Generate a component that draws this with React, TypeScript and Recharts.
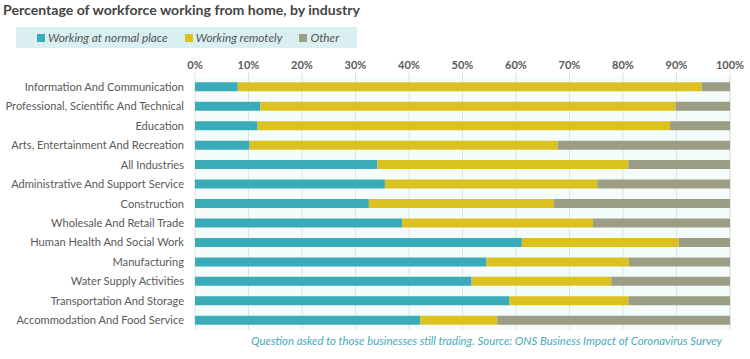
import React from 'react';
import { BarChart, Bar, XAxis, YAxis, CartesianGrid } from 'recharts';

const industries = [
  'Information And Communication',
  'Professional, Scientific And Technical',
  'Education',
  'Arts, Entertainment And Recreation',
  'All Industries',
  'Administrative And Support Service',
  'Construction',
  'Wholesale And Retail Trade',
  'Human Health And Social Work',
  'Manufacturing',
  'Water Supply Activities',
  'Transportation And Storage',
  'Accommodation And Food Service',
];
const normalPlace = [8.0, 12.2, 11.7, 10.2, 34.1, 35.5, 32.5, 38.7, 61.1, 54.5, 51.7, 58.8, 42.1];
const remotely = [86.7, 77.6, 77.1, 57.6, 46.9, 39.7, 34.6, 35.7, 29.3, 26.6, 26.1, 22.2, 14.4];
const other = [5.3, 10.2, 11.2, 32.2, 19.0, 24.8, 32.9, 25.6, 9.6, 18.9, 22.2, 19.0, 43.5];
const xTicks = [0, 10, 20, 30, 40, 50, 60, 70, 80, 90, 100];

const data = industries.map((name, i) => ({
  name,
  normal: normalPlace[i],
  remote: remotely[i],
  other: other[i],
}));

const TEAL = '#3aacb9';
const YELLOW = '#dbc221';
const GREY = '#9b9d84';
const FONT = 'Lato, "Open Sans", sans-serif';

const legendItems = [
  { label: 'Working at normal place', color: TEAL },
  { label: 'Working remotely', color: YELLOW },
  { label: 'Other', color: GREY },
];

const CategoryTick = (props: any) => {
  const { x, y, payload } = props;
  return (
    <text x={x} y={y} dy={4} textAnchor="end" fill="#595959" fontSize={11.1} fontFamily={FONT}>
      {payload.value}
    </text>
  );
};

export default function App() {
  return (
    <div style={{ position: 'absolute', left: 0, top: 0, width: 750, height: 359, background: '#fff', fontFamily: FONT, overflow: 'hidden' }}>
      <div style={{ position: 'absolute', left: 3, top: 1, fontSize: 14.1, fontWeight: 700, color: '#454545', whiteSpace: 'nowrap' }}>
        Percentage of workforce working from home, by industry
      </div>
      <div style={{ position: 'absolute', left: 16, top: 27, width: 341, height: 21, background: '#d9eff1', display: 'flex', alignItems: 'center', paddingLeft: 21, boxSizing: 'border-box', whiteSpace: 'nowrap' }}>
        {legendItems.map((it) => (
          <div key={it.label} style={{ display: 'flex', alignItems: 'center', marginRight: 17, whiteSpace: 'nowrap', flexShrink: 0 }}>
            <span style={{ display: 'inline-block', width: 8, height: 8, background: it.color, marginRight: 3 }} />
            <span style={{ fontSize: 11.8, fontStyle: 'italic', color: '#555' }}>{it.label}</span>
          </div>
        ))}
      </div>
      <BarChart
        width={750}
        height={359}
        data={data}
        layout="vertical"
        margin={{ top: 47, right: 20, bottom: 29, left: 0 }}
        barCategoryGap="27%"
      >
        <CartesianGrid horizontal={false} stroke="#e2e2e2" fill="#f5fcfc" />
        <XAxis
          type="number"
          orientation="top"
          domain={[0, 100]}
          ticks={xTicks}
          tickFormatter={(v: number) => `${v}%`}
          axisLine={false}
          tickLine={{ stroke: '#e2e2e2' }}
          tickSize={5}
          tickMargin={3}
          tick={{ fill: '#595959', fontSize: 11, fontWeight: 700, fontFamily: FONT }}
          interval={0}
        />
        <YAxis
          type="category"
          dataKey="name"
          width={195}
          axisLine={false}
          tickLine={false}
          tickSize={0}
          tickMargin={11}
          interval={0}
          tick={<CategoryTick />}
        />
        <Bar dataKey="normal" stackId="a" fill={TEAL} isAnimationActive={false} />
        <Bar dataKey="remote" stackId="a" fill={YELLOW} isAnimationActive={false} />
        <Bar dataKey="other" stackId="a" fill={GREY} isAnimationActive={false} />
      </BarChart>
      <div style={{ position: 'absolute', right: 28, top: 334, fontSize: 11.4, fontStyle: 'italic', color: '#4aabb8', whiteSpace: 'nowrap' }}>
        Question asked to those businesses still trading. Source: ONS Business Impact of Coronavirus Survey
      </div>
    </div>
  );
}
